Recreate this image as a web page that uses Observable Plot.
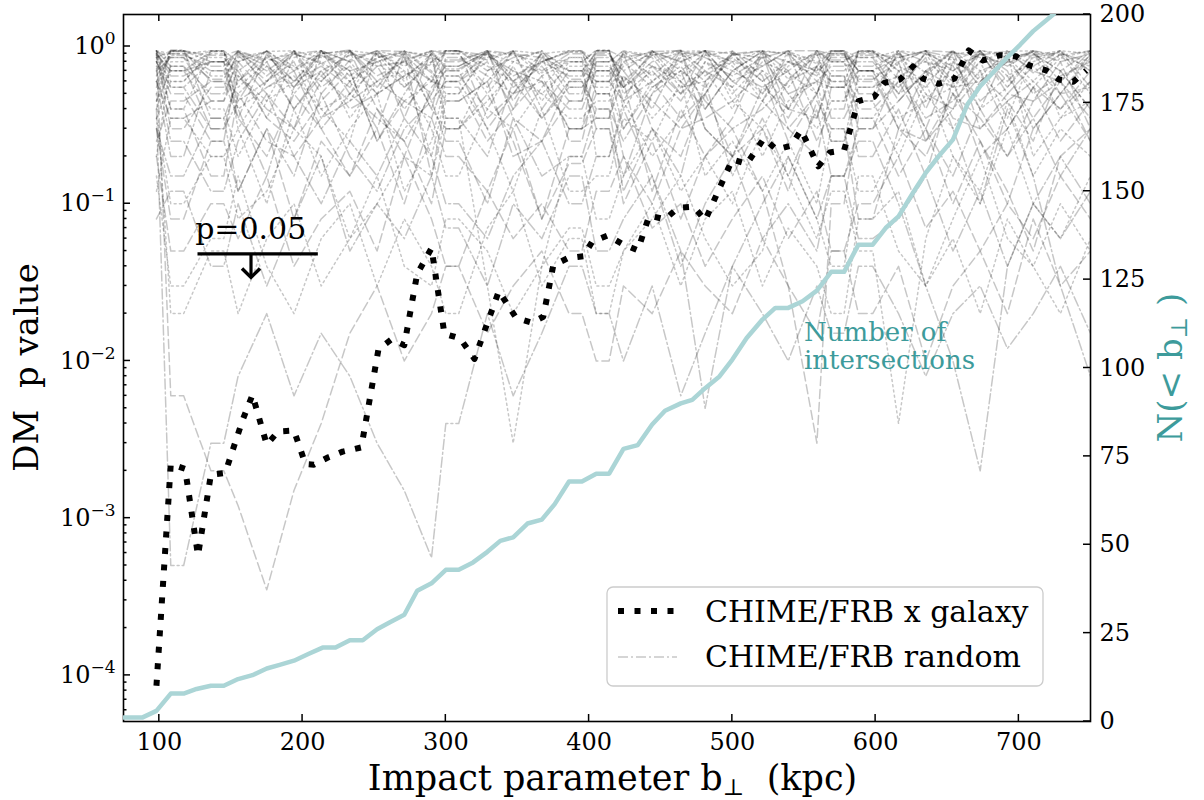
<!DOCTYPE html>
<html><head><meta charset="utf-8">
<script src="https://cdn.jsdelivr.net/npm/d3@7"></script>
<script src="https://cdn.jsdelivr.net/npm/@observablehq/plot@0.6"></script>
<style>
body{margin:0;background:#fff;}
#wrap{position:relative;width:1204px;height:800px;font-family:"DejaVu Serif",serif;}
#wrap svg{position:absolute;left:0;top:0;}
</style></head><body><div id="wrap"></div>
<script>
// ---------- data ----------
const galaxyB = [98,108,118,127,136,146,158,165,175,183,194,202,208,218,228,241,253,262,271,280,290,299,310,320,337,349,360,368,375,385,396,402,413,423,434,442,453,462,473,481,500,510,522,531,541,548,560,568,578,588,599,606,617,626,633,644,655,665,675,687,698,707,719,728,738,747];
const galaxyP = [8.6e-5,2.21e-3,2.06e-3,5.8e-4,1.89e-3,1.94e-3,4.17e-3,6.08e-3,2.94e-3,3.56e-3,3.61e-3,2.21e-3,2.19e-3,2.44e-3,2.65e-3,2.82e-3,1.19e-2,1.37e-2,1.26e-2,3.58e-2,5.21e-2,1.49e-2,1.39e-2,1.03e-2,2.78e-2,1.88e-2,1.75e-2,1.91e-2,4.05e-2,4.5e-2,4.63e-2,5.71e-2,6.28e-2,5.56e-2,5.06e-2,8.41e-2,7.96e-2,9.42e-2,9.59e-2,7.85e-2,.191,.179,.26,.221,.234,.294,.173,.212,.219,.449,.479,.587,.617,.746,.625,.579,.625,.944,.815,.881,.867,.76,.706,.617,.596,.703];

const nB = [75,88,98,108,117,126,136,145,155,165,175,184,194,204,214,223,233,242,252,261,271,280,290,300,309,319,329,338,347,357,367,376,386,395,405,414,424,434,444,453,464,472,481,491,500,510,521,530,539,549,559,569,578,588,598,607,616,626,635,644,654,664,673,683,692,701,710,724,735];
const nCount = [1.1,1.1,3,7.9,7.9,9.2,10.1,10.1,12,13.1,15,16,17.2,19.1,20.9,20.9,23,23,26.1,28.1,30.2,37,39.1,42.9,42.9,45,48,51.1,52.1,56,57.1,61.5,67.9,67.9,70.1,70.1,77.1,78.2,84,87.9,90,91,94.3,97.6,102.4,108.5,113.7,117,117,118.9,121.9,127.2,127.2,134.9,134.9,139.6,142.9,149.5,155.2,159.9,164.6,174.5,179.7,184,187.9,191.5,195.3,200,206];

const randomB = [98,108,117,136,145,155,175,194,213,233,252,271,290,300,309,329,347,367,386,395,405,414,424,444,464,481,500,521,539,559,569,578,588,598,616,635,654,673,692,710,729,750];
const randomSeries = [
[.93,.85,.85,.62,.62,.9,.7,.93,.5,.82,.94,.62,.9,.75,.75,.92,.45,.85,.7,.7,.92,.92,.6,.88,.95,.7,.55,.9,.8,.65,.93,.93,.7,.7,.85,.94,.6,.9,.75,.93,.8,.9],
[.72,.94,.94,.8,.8,.45,.88,.6,.9,.95,.55,.9,.4,.82,.82,.94,.6,.9,.5,.5,.85,.85,.7,.4,.9,.93,.6,.75,.94,.5,.88,.88,.62,.62,.8,.94,.7,.9,.55,.85,.92,.7],
[.35,.6,.6,.9,.9,.75,.35,.85,.94,.6,.8,.93,.88,.3,.3,.7,.93,.45,.8,.8,.95,.95,.4,.75,.6,.88,.93,.5,.8,.9,.45,.45,.93,.93,.7,.8,.6,.95,.85,.6,.9,.5],
[.9,.3,.3,.55,.55,.93,.8,.4,.7,.88,.9,.35,.93,.6,.6,.8,.4,.94,.7,.7,.35,.35,.93,.85,.5,.7,.88,.94,.4,.75,.93,.93,.5,.5,.9,.4,.94,.6,.8,.93,.5,.85],
[.55,.95,.95,.35,.35,.6,.94,.7,.3,.5,.75,.8,.6,.93,.93,.88,.7,.6,.4,.4,.7,.7,.55,.93,.94,.4,.7,.93,.9,.35,.7,.7,.88,.88,.5,.93,.85,.4,.93,.7,.6,.94],
[.2,.8,.8,.94,.94,.3,.6,.9,.8,.35,.6,.7,.2,.5,.5,.93,.88,.8,.93,.93,.5,.5,.3,.6,.8,.94,.45,.3,.6,.94,.8,.8,.35,.35,.6,.9,.5,.8,.35,.9,.7,.4],
[.8,.5,.5,.25,.25,.8,.5,.3,.6,.93,.4,.2,.55,.7,.7,.3,.5,.9,.25,.25,.6,.6,.9,.3,.2,.5,.94,.65,.25,.5,.94,.94,.7,.7,.3,.7,.95,.3,.5,.45,.8,.3],
[.6,.2,.2,.7,.7,.4,.15,.55,.93,.7,.25,.5,.9,.35,.35,.2,.6,.35,.6,.6,.3,.3,.15,.5,.7,.3,.2,.55,.7,.25,.4,.4,.94,.94,.8,.25,.4,.93,.7,.3,.5,.9],
[.45,.7,.7,.4,.4,.2,.45,.94,.4,.25,.93,.6,.3,.15,.15,.4,.3,.55,.85,.85,.2,.2,.45,.2,.35,.8,.55,.2,.45,.6,.25,.25,.45,.45,.2,.5,.3,.6,.9,.2,.35,.6],
[.94,.4,.4,.15,.15,.5,.25,.2,.35,.6,.3,.9,.15,.45,.45,.6,.2,.25,.45,.45,.9,.9,.6,.12,.4,.2,.35,.9,.3,.2,.55,.55,.2,.2,.4,.15,.6,.2,.3,.55,.25,.45],
[.3,.15,.15,.35,.35,.12,.3,.15,.5,.2,.12,.3,.45,.25,.25,.1,.35,.15,.2,.2,.4,.4,.12,.3,.15,.6,.15,.35,.15,.4,.15,.15,.3,.3,.7,.3,.15,.4,.2,.35,.15,.3],
[.12,.35,.35,.2,.2,.3,.1,.4,.15,.3,.5,.12,.25,.6,.6,.3,.12,.4,.12,.12,.15,.15,.35,.25,.6,.15,.25,.12,.25,.1,.3,.3,.12,.12,.25,.6,.2,.12,.45,.15,.3,.2],
[.2,.05,.05,.1,.1,.06,.15,.04,.08,.12,.05,.2,.08,.04,.04,.12,.06,.1,.05,.05,.12,.12,.2,.07,.1,.04,.08,.15,.06,.12,.05,.05,.1,.1,.2,.07,.12,.05,.1,.06,.15,.08],
[.08,.12,.12,.04,.04,.1,.03,.08,.2,.05,.1,.06,.15,.07,.07,.03,.1,.06,.15,.15,.05,.05,.08,.15,.04,.1,.2,.06,.1,.05,.15,.15,.06,.06,.08,.15,.05,.12,.04,.1,.06,.12],
[.5,.02,.02,.05,.05,.02,.06,.1,.03,.06,.15,.04,.03,.08,.08,.05,.02,.04,.07,.07,.03,.03,.05,.08,.15,.06,.03,.05,.2,.08,.04,.04,.15,.15,.05,.03,.08,.2,.06,.04,.1,.05],
[.9,.006,.006,.002,.002,.0012,.00035,.0015,.004,.015,.03,.01,.02,.04,.04,.015,.03,.05,.02,.02,.01,.01,.03,.02,.05,.03,.02,.06,.03,.015,.05,.05,.02,.02,.04,.01,.03,.05,.02,.08,.03,.05],
[.4,.0005,.0005,.003,.003,.008,.02,.006,.015,.008,.003,.0015,.00056,.004,.004,.02,.006,.015,.04,.04,.02,.02,.01,.03,.006,.015,.04,.02,.01,.03,.015,.015,.04,.04,.02,.008,.02,.03,.012,.02,.04,.015],
[.85,.6,.6,.93,.93,.55,.8,.94,.65,.45,.85,.94,.7,.5,.5,.9,.8,.94,.55,.55,.8,.8,.94,.6,.85,.94,.75,.5,.93,.8,.6,.6,.94,.94,.7,.55,.9,.93,.65,.8,.94,.7],
[.65,.9,.9,.7,.7,.94,.55,.7,.9,.94,.65,.8,.94,.9,.9,.55,.94,.7,.9,.9,.6,.6,.8,.94,.7,.55,.9,.94,.7,.94,.9,.9,.6,.6,.94,.8,.7,.94,.6,.9,.7,.94],
[.94,.75,.75,.5,.5,.8,.93,.6,.75,.55,.94,.7,.5,.85,.85,.65,.5,.8,.65,.65,.94,.94,.5,.7,.45,.8,.65,.85,.5,.6,.75,.75,.8,.8,.5,.65,.94,.55,.85,.5,.65,.8],
[.5,.94,.94,.85,.85,.65,.45,.6,.94,.8,.5,.65,.85,.94,.94,.75,.6,.5,.75,.75,.55,.55,.75,.9,.55,.6,.8,.45,.75,.9,.55,.55,.7,.7,.94,.45,.55,.8,.94,.75,.5,.55],
[.25,.45,.45,.6,.6,.35,.2,.5,.3,.15,.4,.25,.1,.3,.3,.5,.25,.08,.3,.3,.5,.5,.2,.1,.3,.5,.2,.3,.12,.45,.3,.3,.08,.08,.3,.2,.5,.25,.1,.3,.5,.25],
[.7,.25,.25,.12,.12,.25,.5,.2,.1,.25,.15,.35,.2,.1,.1,.06,.15,.25,.1,.1,.2,.2,.4,.15,.05,.005,.04,.1,.2,.08,.15,.15,.25,.25,.1,.03,.01,.002,.04,.1,.2,.1],
[.35,.1,.1,.2,.2,.08,.12,.3,.2,.06,.1,.2,.15,.35,.35,.03,.003,.04,.2,.2,.08,.08,.15,.3,.12,.2,.1,.3,.15,.06,.12,.12,.05,.05,.004,.06,.2,.1,.3,.1,.06,.15],
[.6,.35,.35,.45,.45,.7,.35,.25,.45,.7,.25,.45,.6,.55,.55,.25,.4,.65,.3,.3,.35,.35,.65,.45,.3,.35,.45,.7,.4,.35,.65,.65,.3,.3,.45,.7,.35,.3,.45,.25,.7,.4],
[.8,.55,.55,.3,.3,.45,.6,.8,.35,.45,.6,.45,.35,.65,.65,.4,.75,.35,.55,.55,.7,.7,.3,.55,.75,.45,.3,.4,.6,.75,.35,.35,.55,.55,.65,.35,.45,.7,.3,.55,.4,.6],
[.15,.03,.03,.06,.06,.15,.04,.02,.06,.1,.03,.08,.04,.02,.02,.07,.12,.03,.06,.06,.02,.02,.05,.1,.03,.08,.12,.03,.07,.04,.02,.02,.08,.08,.12,.03,.06,.02,.08,.04,.02,.06],
[.3,.08,.08,.25,.25,.12,.3,.08,.25,.15,.3,.1,.35,.2,.2,.12,.3,.08,.18,.18,.3,.3,.1,.25,.08,.2,.3,.12,.03,.003,.1,.1,.35,.35,.15,.3,.1,.25,.12,.05,.2,.3],
[.9,.7,.7,.8,.8,.92,.75,.55,.88,.7,.8,.9,.6,.75,.75,.92,.65,.8,.92,.92,.75,.75,.55,.8,.92,.65,.85,.6,.8,.7,.9,.9,.7,.7,.55,.85,.3,.1,.4,.15,.03,.008],
[.75,.93,.93,.65,.65,.85,.93,.75,.6,.9,.8,.55,.8,.65,.65,.85,.93,.65,.8,.8,.65,.65,.92,.75,.65,.92,.8,.7,.55,.92,.8,.8,.92,.92,.75,.6,.8,.65,.93,.94,.85,.75],
[.88,.7,.7,.93,.93,.6,.85,.72,.94,.65,.85,.92,.68,.94,.94,.7,.85,.93,.62,.62,.88,.88,.7,.93,.8,.6,.92,.75,.94,.68,.85,.85,.93,.93,.62,.9,.75,.88,.94,.68,.9,.8],
[.6,.88,.88,.75,.75,.94,.65,.9,.78,.94,.6,.82,.94,.72,.72,.9,.6,.8,.94,.94,.7,.7,.9,.65,.94,.85,.7,.93,.62,.88,.94,.94,.75,.75,.9,.68,.94,.7,.82,.94,.6,.88],
[.94,.55,.55,.8,.8,.7,.94,.5,.8,.6,.9,.55,.78,.9,.9,.5,.8,.68,.85,.85,.5,.5,.8,.55,.7,.9,.5,.8,.68,.5,.8,.8,.55,.55,.78,.94,.55,.6,.8,.55,.85,.94],
[.7,.85,.85,.45,.45,.88,.6,.94,.55,.75,.5,.94,.45,.6,.6,.94,.55,.75,.45,.45,.94,.94,.55,.75,.5,.94,.6,.45,.9,.6,.55,.55,.85,.85,.45,.7,.55,.94,.5,.75,.94,.55],
[.45,.93,.93,.6,.6,.5,.75,.4,.65,.93,.75,.4,.65,.45,.45,.6,.94,.4,.7,.7,.6,.6,.45,.94,.6,.4,.7,.55,.4,.94,.65,.65,.45,.45,.94,.5,.4,.65,.45,.6,.4,.7],
[.8,.4,.4,.94,.94,.4,.55,.65,.4,.5,.94,.85,.4,.3,.3,.45,.7,.5,.35,.35,.45,.45,.65,.35,.55,.7,.4,.94,.5,.3,.45,.45,.7,.7,.35,.45,.75,.4,.55,.94,.35,.45],
[.92,.65,.65,.8,.8,.35,.9,.55,.7,.4,.5,.65,.8,.94,.94,.35,.5,.6,.3,.3,.8,.8,.45,.6,.35,.5,.9,.6,.35,.75,.6,.6,.4,.4,.6,.3,.8,.45,.65,.35,.6,.25],
[.4,.75,.75,.3,.3,.65,.4,.3,.94,.5,.35,.25,.5,.7,.7,.94,.35,.25,.6,.6,.4,.4,.25,.5,.94,.3,.2,.45,.3,.5,.25,.25,.65,.65,.3,.25,.5,.35,.2,.45,.6,.35],
[.94,.9,.9,.94,.94,.8,.93,.94,.85,.94,.9,.75,.93,.94,.94,.82,.94,.9,.94,.94,.8,.8,.94,.88,.93,.94,.8,.94,.9,.78,.94,.94,.85,.85,.94,.9,.82,.94,.9,.88,.94,.9],
[.85,.94,.94,.88,.88,.94,.82,.9,.94,.8,.94,.93,.85,.8,.8,.94,.9,.85,.8,.8,.94,.94,.85,.92,.8,.94,.9,.85,.94,.94,.82,.82,.9,.9,.85,.94,.92,.85,.78,.94,.88,.94]
];

const xTicks = [100,200,300,400,500,600,700];
const yTicks = [1e-4,1e-3,1e-2,1e-1,1];
const yTickBase = "10";
const yTickExp = ["\u22124","\u22123","\u22122","\u22121","0"];
const yDecades = [1e-5,1e-4,1e-3,1e-2,1e-1];
const yMinorMult = [2,3,4,5,6,7,8,9];
const nTicks = [0,25,50,75,100,125,150,175,200];

const pLine = [{b1:127, b2:211, p:0.048}];
const pArrow = [{b:164, p1:0.048, p2:0.034}];
const pText = [{b:125, p:0.069, t:"p=0.05"}];
const nText = [{b:550, n:113.3, t:"Number of\nintersections"}];
const legendItems = ["CHIME/FRB x galaxy", "CHIME/FRB random"];

// ---------- styles ----------
const W = 1204, H = 800;
const M = {marginLeft:123, marginRight:114, marginTop:14, marginBottom:79};
const FONT_CSS = '"DejaVu Serif", serif';
const TEAL_LINE = "#abd5d6", TEAL_TEXT = "#3d9b9b";
const dashes = ["9 4", "10 3 2 3", "2 3.3"];
const RAND_OP = 0.22;

const galaxyRows = galaxyB.map((b,i)=>({b, p: galaxyP[i]}));
const nRows = nB.map((b,i)=>({b, n: nCount[i]}));
const randomRows = randomSeries.flatMap((vals,k)=>vals.map((p,i)=>({b: randomB[i], p, k})));

const chevron = {draw(ctx, size){ const s = Math.sqrt(size/Math.PI); ctx.moveTo(-s,-s); ctx.lineTo(0,0); ctx.lineTo(s,-s); }};

const main = Plot.plot({
  width: W, height: H, ...M,
  style: {fontFamily: FONT_CSS, background: "transparent", overflow: "visible", color: "black"},
  x: {domain: [75, 750]},
  y: {type: "log", domain: [5.09e-5, 1.598]},
  marks: [
    ...dashes.map((dash, g) => Plot.line(randomRows.filter(d => d.k % 3 === g), {x:"b", y:"p", z:"k", stroke:"black", strokeOpacity:RAND_OP, strokeWidth:1.5, strokeDasharray:dash, clip:true})),
    Plot.line(galaxyRows, {x:"b", y:"p", stroke:"black", strokeWidth:6, strokeDasharray:"6 10.5", strokeLinecap:"butt"}),
    Plot.ruleY(pLine, {x1:"b1", x2:"b2", y:"p", stroke:"black", strokeWidth:3.2}),
    Plot.ruleX(pArrow, {x:"b", y1:"p1", y2:"p2", stroke:"black", strokeWidth:3.2}),
    Plot.dot(pArrow, {x:"b", y:"p2", symbol: chevron, r: 9, stroke:"black", strokeWidth:3.5, fill:"none"}),
    Plot.text(pText, {x:"b", y:"p", text:"t", textAnchor:"start", fontSize:30, fill:"black"}),
    Plot.axisX({ticks: xTicks, tickSize:0, tickPadding:11, fontSize:24, label:null}),
    Plot.axisY({ticks: yTicks, tickFormat: d => yTickBase + "|" + yTickExp[yTicks.indexOf(d)], tickSize:0, tickPadding:8, fontSize:24, label:null}),
    Plot.frame({stroke:"black", strokeWidth:1.6})
  ]
});

const over = Plot.plot({
  width: W, height: H, ...M,
  style: {fontFamily: FONT_CSS, background: "transparent", overflow: "visible", color: "black"},
  x: {domain: [75, 750], axis: null},
  y: {domain: [0, 200]},
  marks: [
    Plot.line(nRows, {x:"b", y:"n", stroke:TEAL_LINE, strokeWidth:4.5, clip:true}),
    Plot.axisY({anchor:"right", ticks:nTicks, tickSize:0, tickPadding:9, fontSize:24, label:null}),
    Plot.text(nText, {x:"b", y:"n", text:"t", textAnchor:"start", lineAnchor:"top", fill:TEAL_TEXT, fontSize:26, lineHeight:1.07})
  ]
});

const wrap = document.getElementById("wrap");
wrap.appendChild(main);
wrap.appendChild(over);

// ---------- superscript exponents on the log-axis labels ----------
d3.select(main).selectAll("text").each(function(){
  const s = this.textContent;
  if (s.startsWith(yTickBase + "|")) {
    const exp = s.split("|")[1];
    const t = d3.select(this); t.text(null);
    t.append("tspan").text(yTickBase);
    t.append("tspan").style("font-size","17px").attr("dy",-10).text(exp);
  }
});

// ---------- inward ticks ----------
const sx = main.scale("x"), sy = main.scale("y"), sn = over.scale("y");
const [L, R] = sx.range; const [B, T] = sy.range;
const gm = d3.select(main).append("g").attr("stroke","black").attr("stroke-width",1.5);
const seg = (g,x1,y1,x2,y2) => g.append("line").attr("x1",x1).attr("y1",y1).attr("x2",x2).attr("y2",y2);
xTicks.forEach(v => { const x = sx.apply(v); seg(gm,x,B,x,B-7); seg(gm,x,T,x,T+7); });
yTicks.forEach(v => { const y = sy.apply(v); seg(gm,L,y,L+7,y); });
yDecades.forEach(d => yMinorMult.forEach(m => { const v = d*m; if (v > sy.domain[0] && v < sy.domain[1]) { const y = sy.apply(v); seg(gm,L,y,L+3.5,y); } }));
const go = d3.select(over).append("g").attr("stroke","black").attr("stroke-width",1.5);
nTicks.forEach(v => { const y = sn.apply(v); seg(go,R,y,R-7,y); });

// ---------- helpers for text ----------
function txt(sel, size, fill, anchor){
  return sel.append("text").attr("text-anchor", anchor).style("font-family", FONT_CSS)
    .style("font-size", size + "px").attr("fill", fill).style("white-space","pre");
}

// ---------- axis labels ----------
const xl = txt(d3.select(main), 35, "black", "middle").attr("x",(L+R)/2 + 6).attr("y",790);
xl.append("tspan").text("Impact parameter b");
xl.append("tspan").style("font-size","23px").attr("dy",5).text("\u22A5");
xl.append("tspan").attr("dy",-5).text("  (kpc)");

txt(d3.select(main), 34, "black", "middle").attr("transform",`translate(38,${(T+B)/2}) rotate(-90)`).text("DM  p value");

const rl = txt(d3.select(over), 34, TEAL_TEXT, "middle").attr("transform",`translate(1182,${(T+B)/2}) rotate(-90)`);
rl.append("tspan").text("N(< b");
rl.append("tspan").style("font-size","23px").attr("dy",5).text("\u22A5");
rl.append("tspan").attr("dy",-5).text(" )");

// ---------- legend ----------
const lg = d3.select(over).append("g");
lg.append("rect").attr("x",607).attr("y",587).attr("width",436).attr("height",99).attr("rx",6)
  .attr("fill","white").attr("fill-opacity",0.8).attr("stroke","#cccccc").attr("stroke-width",1.3);
lg.append("line").attr("x1",618).attr("x2",677).attr("y1",611).attr("y2",611)
  .attr("stroke","black").attr("stroke-width",6).attr("stroke-dasharray","6 10.5");
lg.append("line").attr("x1",618).attr("x2",677).attr("y1",657).attr("y2",657)
  .attr("stroke","black").attr("stroke-opacity",RAND_OP).attr("stroke-width",1.5).attr("stroke-dasharray",dashes[1]);
txt(lg, 30, "black", "start").attr("x",705).attr("y",622).text(legendItems[0]);
txt(lg, 30, "black", "start").attr("x",705).attr("y",667).text(legendItems[1]);
</script></body></html>
